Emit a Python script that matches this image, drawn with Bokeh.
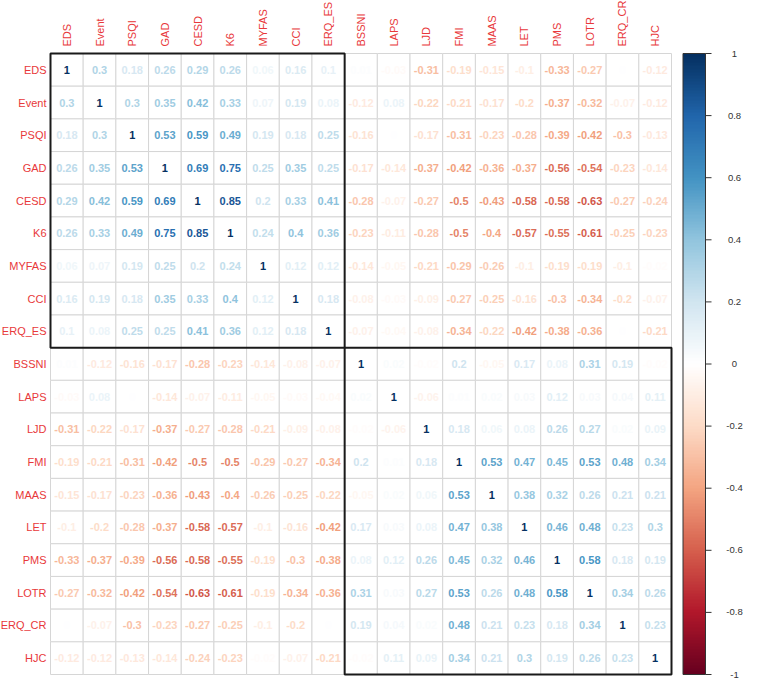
import numpy as np
from bokeh.plotting import figure
from bokeh.models import ColumnDataSource, LinearColorMapper, Range1d
from bokeh.transform import linear_cmap
from bokeh.core.properties import value
from bokeh.embed import file_html
from bokeh.resources import INLINE

# ---------------- data ----------------
variables = ["EDS", "Event", "PSQI", "GAD", "CESD", "K6", "MYFAS", "CCI", "ERQ_ES",
             "BSSNI", "LAPS", "LJD", "FMI", "MAAS", "LET", "PMS", "LOTR", "ERQ_CR", "HJC"]

r_EDS    = [1, 0.3, 0.18, 0.26, 0.29, 0.26, 0.06, 0.16, 0.1, 0.01, -0.03, -0.31, -0.19, -0.15, -0.1, -0.33, -0.27, 0, -0.12]
r_Event  = [0.3, 1, 0.3, 0.35, 0.42, 0.33, 0.07, 0.19, 0.08, -0.12, 0.08, -0.22, -0.21, -0.17, -0.2, -0.37, -0.32, -0.07, -0.12]
r_PSQI   = [0.18, 0.3, 1, 0.53, 0.59, 0.49, 0.19, 0.18, 0.25, -0.16, 0, -0.17, -0.31, -0.23, -0.28, -0.39, -0.42, -0.3, -0.13]
r_GAD    = [0.26, 0.35, 0.53, 1, 0.69, 0.75, 0.25, 0.35, 0.25, -0.17, -0.14, -0.37, -0.42, -0.36, -0.37, -0.56, -0.54, -0.23, -0.14]
r_CESD   = [0.29, 0.42, 0.59, 0.69, 1, 0.85, 0.2, 0.33, 0.41, -0.28, -0.07, -0.27, -0.5, -0.43, -0.58, -0.58, -0.63, -0.27, -0.24]
r_K6     = [0.26, 0.33, 0.49, 0.75, 0.85, 1, 0.24, 0.4, 0.36, -0.23, -0.11, -0.28, -0.5, -0.4, -0.57, -0.55, -0.61, -0.25, -0.23]
r_MYFAS  = [0.06, 0.07, 0.19, 0.25, 0.2, 0.24, 1, 0.12, 0.12, -0.14, -0.05, -0.21, -0.29, -0.26, -0.1, -0.19, -0.19, -0.1, -0.02]
r_CCI    = [0.16, 0.19, 0.18, 0.35, 0.33, 0.4, 0.12, 1, 0.18, -0.08, -0.03, -0.09, -0.27, -0.25, -0.16, -0.3, -0.34, -0.2, -0.07]
r_ERQ_ES = [0.1, 0.08, 0.25, 0.25, 0.41, 0.36, 0.12, 0.18, 1, -0.07, -0.04, -0.08, -0.34, -0.22, -0.42, -0.38, -0.36, 0, -0.21]
r_BSSNI  = [0.01, -0.12, -0.16, -0.17, -0.28, -0.23, -0.14, -0.08, -0.07, 1, 0.02, -0.02, 0.2, -0.05, 0.17, 0.08, 0.31, 0.19, -0.02]
r_LAPS   = [-0.03, 0.08, 0, -0.14, -0.07, -0.11, -0.05, -0.03, -0.04, 0.02, 1, -0.06, 0.01, 0.02, 0.03, 0.12, 0.03, 0.04, 0.11]
r_LJD    = [-0.31, -0.22, -0.17, -0.37, -0.27, -0.28, -0.21, -0.09, -0.08, -0.02, -0.06, 1, 0.18, 0.06, 0.08, 0.26, 0.27, 0.02, 0.09]
r_FMI    = [-0.19, -0.21, -0.31, -0.42, -0.5, -0.5, -0.29, -0.27, -0.34, 0.2, 0.01, 0.18, 1, 0.53, 0.47, 0.45, 0.53, 0.48, 0.34]
r_MAAS   = [-0.15, -0.17, -0.23, -0.36, -0.43, -0.4, -0.26, -0.25, -0.22, -0.05, 0.02, 0.06, 0.53, 1, 0.38, 0.32, 0.26, 0.21, 0.21]
r_LET    = [-0.1, -0.2, -0.28, -0.37, -0.58, -0.57, -0.1, -0.16, -0.42, 0.17, 0.03, 0.08, 0.47, 0.38, 1, 0.46, 0.48, 0.23, 0.3]
r_PMS    = [-0.33, -0.37, -0.39, -0.56, -0.58, -0.55, -0.19, -0.3, -0.38, 0.08, 0.12, 0.26, 0.45, 0.32, 0.46, 1, 0.58, 0.18, 0.19]
r_LOTR   = [-0.27, -0.32, -0.42, -0.54, -0.63, -0.61, -0.19, -0.34, -0.36, 0.31, 0.03, 0.27, 0.53, 0.26, 0.48, 0.58, 1, 0.34, 0.26]
r_ERQ_CR = [0, -0.07, -0.3, -0.23, -0.27, -0.25, -0.1, -0.2, 0, 0.19, 0.04, 0.02, 0.48, 0.21, 0.23, 0.18, 0.34, 1, 0.23]
r_HJC    = [-0.12, -0.12, -0.13, -0.14, -0.24, -0.23, -0.02, -0.07, -0.21, -0.02, 0.11, 0.09, 0.34, 0.21, 0.3, 0.19, 0.26, 0.23, 1]

rows = [r_EDS, r_Event, r_PSQI, r_GAD, r_CESD, r_K6, r_MYFAS, r_CCI, r_ERQ_ES,
        r_BSSNI, r_LAPS, r_LJD, r_FMI, r_MAAS, r_LET, r_PMS, r_LOTR, r_ERQ_CR, r_HJC]

cluster_sizes = [9, 10]
legend_ticks = [1, 0.8, 0.6, 0.4, 0.2, 0, -0.2, -0.4, -0.6, -0.8, -1]
legend_labels = ["1", "0.8", "0.6", "0.4", "0.2", "0", "-0.2", "-0.4", "-0.6", "-0.8", "-1"]

# ---------------- palette (corrplot RdBu) ----------------
anchors = ["#67001F", "#B2182B", "#D6604D", "#F4A582", "#FDDBC7", "#FFFFFF",
           "#D1E5F0", "#92C5DE", "#4393C3", "#2166AC", "#053061"]
def hex2rgb(h):
    return np.array([int(h[i:i + 2], 16) for i in (1, 3, 5)], dtype=float)
a_rgb = np.array([hex2rgb(h) for h in anchors])
pos = np.linspace(0, 1, len(anchors))
palette = []
for t in np.linspace(0, 1, 200):
    rgb = [np.interp(t, pos, a_rgb[:, k]) for k in range(3)]
    palette.append("#%02x%02x%02x" % tuple(int(round(c)) for c in rgb))

# ---------------- geometry ----------------
W, H = 745, 683
n = len(variables)
grid_left_px, grid_top_px, grid_bottom_px = 50, 53, 674
cell = (grid_bottom_px - grid_top_px) / n

p = figure(width=W, height=H, output_backend="svg", toolbar_location=None,
           x_axis_type=None, y_axis_type=None, min_border=0,
           outline_line_color=None, background_fill_color="white",
           border_fill_color="white")
p.grid.visible = False
p.x_range = Range1d(-grid_left_px / cell, (W - grid_left_px) / cell)
p.y_range = Range1d(-(H - grid_bottom_px) / cell, n + grid_top_px / cell)

xs, ys, vals, txts = [], [], [], []
for i, row in enumerate(rows):
    for j, v in enumerate(row):
        xs.append(j + 0.5)
        ys.append(n - i - 0.5)
        vals.append(v)
        txts.append("%g" % round(v, 2))
src = ColumnDataSource(dict(x=xs, y=ys, v=vals, t=txts))

p.rect(x="x", y="y", width=1, height=1, source=src, fill_color="white",
       line_color="#D6D6D6", line_width=1)
p.text(x="x", y="y", text="t", source=src,
       text_color=linear_cmap("v", palette, -1, 1),
       text_font=value("Liberation Sans"), text_font_style="bold",
       text_font_size="11px", text_align="center", text_baseline="middle")

# cluster rectangles
start = 0
for s in cluster_sizes:
    p.rect(x=[start + s / 2], y=[n - start - s / 2], width=s, height=s,
           fill_color=None, line_color="#1a1a1a", line_width=2)
    start += s

# labels
label_red = "#E8383A"
p.text(x=[j + 0.5 for j in range(n)], y=[n + 7 / cell] * n, text=variables,
       angle=np.pi / 2, text_align="left", text_baseline="middle",
       text_color=label_red, text_font=value("Liberation Sans"),
       text_font_size="11px")
p.text(x=[-4 / cell] * n, y=[n - i - 0.5 for i in range(n)], text=variables,
       text_align="right", text_baseline="middle",
       text_color=label_red, text_font=value("Liberation Sans"),
       text_font_size="11px")

# color legend
bar_x0 = (682.5 - grid_left_px) / cell
bar_w = 22.5 / cell
mapper = LinearColorMapper(palette=palette, low=-1, high=1)
grad = np.linspace(-1, 1, 200).reshape(200, 1)
p.image(image=[grad], x=bar_x0, y=0, dw=bar_w, dh=n, color_mapper=mapper)
p.rect(x=[bar_x0 + bar_w / 2], y=[n / 2], width=bar_w, height=n,
       fill_color=None, line_color="#333333", line_width=1)
ty = [(t + 1) / 2 * n for t in legend_ticks]
p.segment(x0=[bar_x0 + bar_w] * len(ty), y0=ty,
          x1=[bar_x0 + bar_w + 6 / cell] * len(ty), y1=ty,
          line_color="#333333", line_width=1)
p.text(x=[(734 - grid_left_px) / cell] * len(ty), y=ty, text=legend_labels,
       text_align="center", text_baseline="middle", text_color="#333333",
       text_font=value("Liberation Sans"), text_font_size="9.5px")

open("out.html", "w").write(file_html(p, INLINE))
